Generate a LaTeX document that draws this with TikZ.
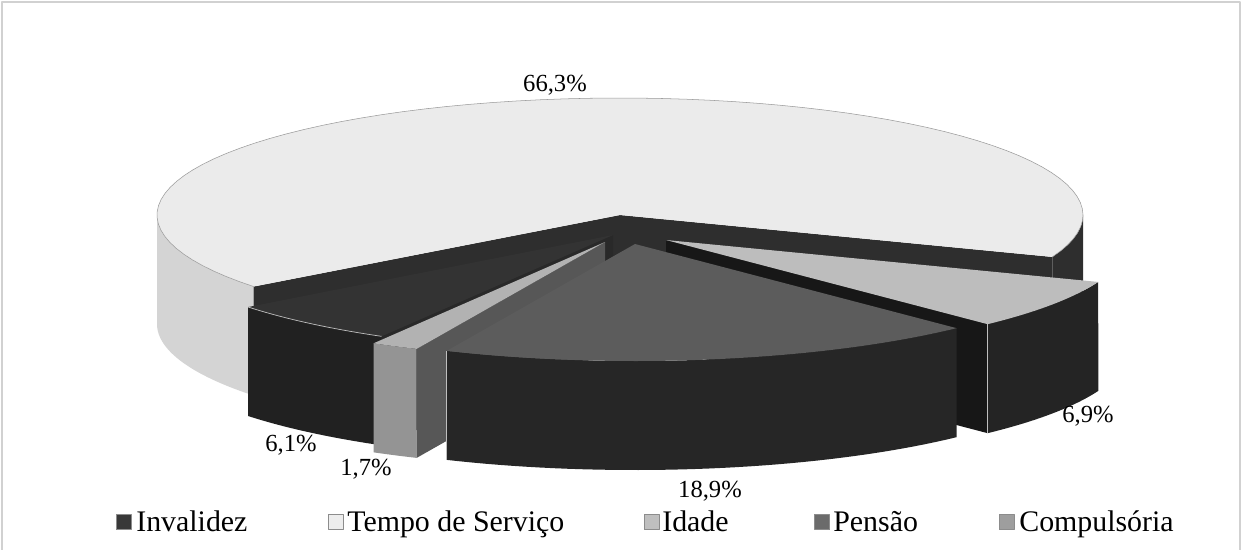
\documentclass[tikz,border=0pt]{standalone}
\usepackage{fontspec}
\setmainfont{Liberation Serif}
% pieces of a 3D pie slice: apex x, apex y, angles, style
\newcommand{\slicetop}[5]{\fill[#5] (#1,#2) -- plot[samples=60,domain=#3:#4] ({#1+px(\x)},{#2+py(\x)}) -- cycle;}
\newcommand{\sliceside}[5]{\fill[#5] plot[samples=40,domain=#3:#4] ({#1+px(\x)},{#2+py(\x)}) -- plot[samples=40,domain=#4:#3] ({#1+px(\x)},{#2+\dep+py(\x)}) -- cycle;}
\newcommand{\sliceface}[4]{\fill[#4] (#1,#2) -- ({#1+px(#3)},{#2+py(#3)}) -- ++(0,\dep) -- (#1,{#2+\dep}) -- cycle;}
\tikzset{
  tempotop/.style={fill=black!8},
  temposide/.style={fill=black!17},
  tempodark/.style={fill=black!82},
  compultop/.style={fill=black!26},
  compulside/.style={fill=black!86},
  compulface/.style={fill=black!91},
  invtop/.style={fill=black!80},
  invside/.style={fill=black!87},
  invface/.style={fill=black!84},
  idadetop/.style={fill=black!30},
  idadeside/.style={fill=black!42},
  idadeface/.style={fill=black!66},
  pensaotop/.style={fill=black!64},
  pensaoside/.style={fill=black!85},
  edge/.style={draw=black!25,line width=0.4pt},
  lbl/.style={font=\fontsize{14}{16}\selectfont,inner sep=0},
  legbox/.style={draw=black!45,line width=0.3pt,minimum size=0.3cm,inner sep=0},
  legtext/.style={font=\fontsize{17}{20}\selectfont,inner sep=0,anchor=base west}
}
\begin{document}
\begin{tikzpicture}[x=0.02cm,y=-0.02cm,line join=round,
  declare function={px(\t)=463*cos(\t); py(\t)=-117*sin(\t);}]
\def\dep{109}
\useasboundingbox (0,0) rectangle (1242,549);
\begin{scope}
\clip (0,0) rectangle (1242,549);
\draw[black!18,line width=0.8pt] (2,2) rectangle (1240,570);
\end{scope}
% Tempo de Servico
\sliceside{620}{215}{180}{217.7}{temposide}
\sliceside{620}{215}{-21}{0}{tempodark}
\sliceface{620}{215}{217.7}{tempodark}
\sliceface{620}{215}{-21}{tempodark}
\slicetop{620}{215}{-21}{217.7}{tempotop}
\draw[black!40,line width=0.3pt] plot[samples=80,domain=-21:217.7] ({620+px(\x)},{215+py(\x)});
% Compulsoria
\sliceside{666}{240}{-46}{-21}{compulside}
\sliceface{666}{240}{-46}{compulface}
\slicetop{666}{240}{-46}{-21}{compultop}
\draw[edge] ({666+px(-46)},{240+py(-46)}) -- ++(0,\dep);
% Invalidez
\sliceside{613}{235}{-142}{-120}{invside}
\sliceface{613}{235}{-120}{invface}
\slicetop{613}{235}{-142}{-120}{invtop}
\draw[edge] plot[samples=20,domain=-142:-120] ({613+px(\x)},{235+py(\x)});
% Idade
\sliceside{605}{242}{-120}{-114}{idadeside}
\sliceface{605}{242}{-114}{idadeface}
\slicetop{605}{242}{-120}{-114}{idadetop}
% Pensao
\sliceside{635}{244}{-114}{-46}{pensaoside}
\slicetop{635}{244}{-114}{-46}{pensaotop}
\draw[edge] ({635+px(-114)},{244+py(-114)}) -- ++(0,\dep);
% labels
\node[lbl] (p663) at (555,85) {66,3\%};
\node[lbl] (p69) at (1088,416) {6,9\%};
\node[lbl] (p189) at (710,491) {18,9\%};
\node[lbl] (p61) at (291,445) {6,1\%};
\node[lbl] (p17) at (366,469) {1,7\%};
% legend
\node[legbox,fill=black!78] (sqinv) at (123.5,522) {};
\node[legtext] (tinv) at (136,531) {Invalidez};
\node[legbox,fill=black!7] (sqtempo) at (335.5,522) {};
\node[legtext] (ttempo) at (347,531) {Tempo de Serviço};
\node[legbox,fill=black!25] (sqidade) at (651.5,522) {};
\node[legtext] (tidade) at (662,531) {Idade};
\node[legbox,fill=black!58] (sqpensao) at (822,522) {};
\node[legtext] (tpensao) at (833,531) {Pensão};
\node[legbox,fill=black!38] (sqcompul) at (1006.5,522) {};
\node[legtext] (tcompul) at (1019,531) {Compulsória};
\end{tikzpicture}
\end{document}
